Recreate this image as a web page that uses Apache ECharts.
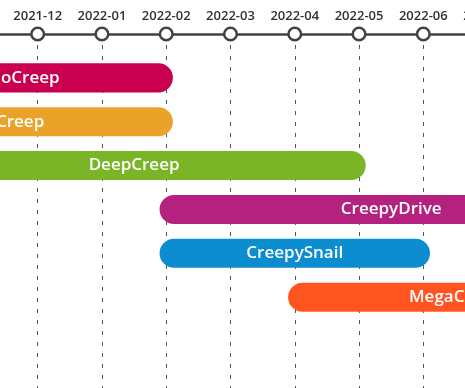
<!DOCTYPE html>
<html>
<head>
<meta charset="utf-8">
<script src="https://cdn.jsdelivr.net/npm/echarts@6/dist/echarts.min.js"></script>
<style>html,body{margin:0;padding:0;background:#fff;}#main{width:465px;height:388px;}</style>
</head>
<body>
<div id="main"></div>
<script>
// Tick labels (months along the timeline)
var months = ['2021-09','2021-10','2021-11','2021-12','2022-01','2022-02','2022-03','2022-04','2022-05','2022-06','2022-07','2022-08','2022-09'];
// Visible axis window
var axisStart = '2021-11';
var axisEnd = '2022-07';
// Series (rows, top to bottom)
var names  = ['TechnoCreep','FlipCreep','DeepCreep','CreepyDrive','CreepySnail','MegaCreep'];
var starts = ['2021-09','2021-09','2021-10','2022-02','2022-02','2022-04'];
var ends   = ['2022-02','2022-02','2022-05','2022-09','2022-06','2022-09'];
var colors = ['#c8004f','#eba229','#79b526','#b5217f','#0b8dd0','#ff5320'];

var barData = names.map(function (n, i) {
  return [months.indexOf(starts[i]), months.indexOf(ends[i]), i, n];
});
var tickData = [];
for (var k = months.indexOf(axisStart); k <= months.indexOf(axisEnd); k++) tickData.push([k]);

var chart = echarts.init(document.getElementById('main'));
chart.setOption({
  animation: false,
  backgroundColor: '#fff',
  grid: { left: -26.6, right: -22.6, top: 34, bottom: 0, containLabel: false, outerBoundsMode: 'none' },
  xAxis: {
    type: 'value',
    position: 'top',
    min: months.indexOf(axisStart),
    max: months.indexOf(axisEnd),
    interval: 1,
    axisLine: { show: true, onZero: false, lineStyle: { color: '#3d4348', width: 2.5 } },
    axisTick: { show: false },
    axisLabel: {
      margin: 11,
      color: '#2e3236',
      fontSize: 13,
      fontWeight: 600,
      fontFamily: 'Open Sans',
      showMinLabel: true,
      showMaxLabel: true,
      hideOverlap: false,
      formatter: function (v) { return months[v] || ''; }
    },
    splitLine: { show: true, lineStyle: { color: '#555', width: 1, type: [4, 7] } }
  },
  yAxis: { type: 'value', inverse: true, min: -1, max: 7.07, show: false },
  series: [
    {
      type: 'custom',
      clip: false,
      data: barData,
      renderItem: function (params, api) {
        var s = api.coord([api.value(0), api.value(2)]);
        var e = api.coord([api.value(1), api.value(2)]);
        var h = api.size([0, 1])[1] * 0.662;
        var pad = h * 0.23;
        return {
          type: 'rect',
          shape: { x: s[0] - pad, y: s[1] - h / 2, width: e[0] - s[0] + 2 * pad, height: h, r: h / 2 },
          style: { fill: colors[params.dataIndex] },
          textContent: {
            style: { text: names[params.dataIndex], fill: '#fff', fontSize: 17, fontWeight: 600, fontFamily: 'Open Sans' }
          },
          textConfig: { position: 'inside' }
        };
      }
    },
    {
      type: 'custom',
      clip: false,
      data: tickData,
      z: 5,
      renderItem: function (params, api) {
        var p = api.coord([api.value(0), 0]);
        return {
          type: 'circle',
          shape: { cx: p[0], cy: params.coordSys.y, r: 6.3 },
          style: { fill: '#fff', stroke: '#3d4348', lineWidth: 2.5 }
        };
      }
    }
  ]
});
</script>
</body>
</html>
